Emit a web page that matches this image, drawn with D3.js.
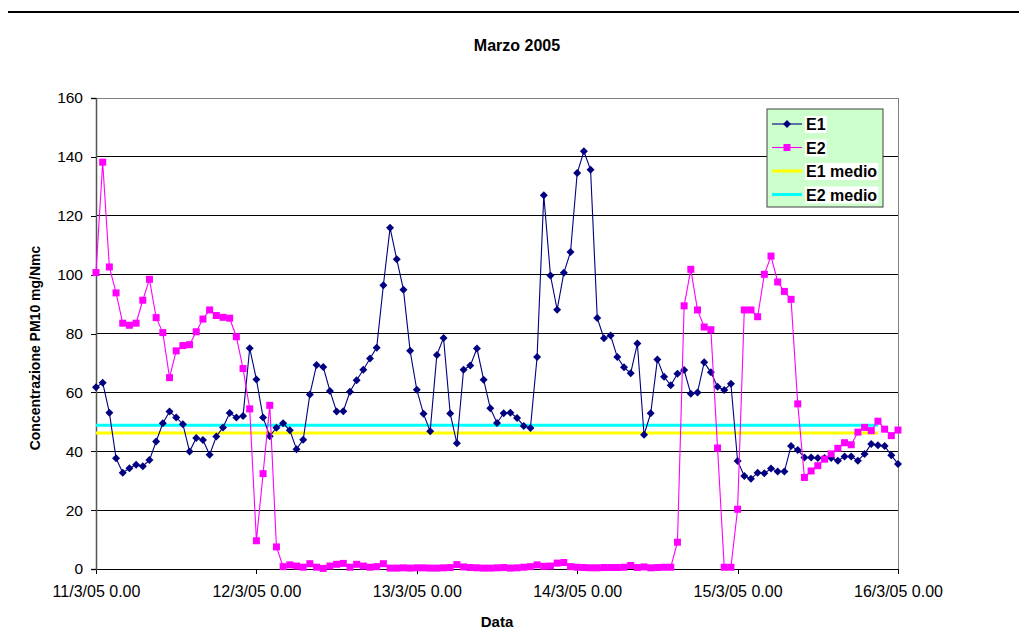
<!DOCTYPE html>
<html>
<head>
<meta charset="utf-8">
<script src="https://cdn.jsdelivr.net/npm/d3@7"></script>
<style>
  body { margin: 0; background: #fff; }
  text { font-family: "Liberation Sans", Arial, sans-serif; }
</style>
</head>
<body>
<div class="chart"></div>
<script>
// hourly values, 11/3/05 0.00 -> 16/3/05 0.00
const e1 = [61.7, 63.3, 53.1, 37.6, 32.7, 34.2, 35.4, 34.9, 37.0, 43.3, 49.5, 53.5,
    51.5, 49.2, 39.9, 44.5, 43.8, 38.8, 45.0, 48.1, 53.0, 51.5, 52.0, 75.0,
    64.4, 51.5, 45.1, 48.0, 49.5, 47.1, 40.7, 43.9, 59.3, 69.3, 68.6, 60.5,
    53.5, 53.6, 60.2, 64.1, 67.7, 71.5, 75.2, 96.4, 115.9, 105.2, 94.9, 74.1,
    60.9, 52.7, 46.8, 72.7, 78.5, 52.8, 42.7, 67.7, 69.1, 74.9, 64.3, 54.6,
    49.6, 52.9, 53.1, 51.3, 48.6, 47.9, 72.0, 127.0, 99.7, 88.1, 100.6, 107.7,
    134.5, 141.9, 135.6, 85.3, 78.4, 79.3, 72.0, 68.5, 66.5, 76.6, 45.6, 52.9,
    71.2, 65.3, 62.4, 66.3, 67.6, 59.5, 60.0, 70.2, 66.8, 61.9, 60.8, 62.9,
    36.7, 31.6, 30.7, 32.7, 32.5, 34.1, 33.1, 33.1, 41.8, 40.4, 37.9, 37.9,
    37.7, 37.7, 37.7, 36.8, 38.2, 38.2, 36.8, 39.1, 42.5, 42.0, 41.8, 38.6,
    35.7];

const e2 = [100.7, 138.2, 102.6, 93.8, 83.5, 82.8, 83.5, 91.3, 98.4, 85.4, 80.3, 65.0,
    74.1, 75.9, 76.2, 80.6, 84.9, 88.0, 86.1, 85.5, 85.2, 78.9, 68.1, 54.4,
    9.6, 32.4, 55.6, 7.5, 0.8, 1.4, 1.0, 0.6, 1.8, 0.6, 0.2, 1.0,
    1.6, 1.9, 0.6, 1.6, 1.0, 0.6, 0.8, 1.8, 0.3, 0.3, 0.4, 0.3,
    0.4, 0.4, 0.3, 0.3, 0.4, 0.5, 1.5, 0.7, 0.5, 0.4, 0.3, 0.3,
    0.4, 0.5, 0.3, 0.4, 0.6, 0.8, 1.4, 0.9, 1.0, 2.0, 2.2, 0.8,
    0.6, 0.5, 0.4, 0.4, 0.5, 0.5, 0.5, 0.6, 1.2, 0.5, 0.7, 0.4,
    0.5, 0.6, 0.6, 9.1, 89.4, 101.8, 88.0, 82.2, 81.3, 41.1, 0.6, 0.6,
    20.3, 88.0, 88.0, 85.7, 100.1, 106.3, 97.5, 94.3, 91.6, 56.1, 31.1, 33.3,
    35.1, 37.3, 39.1, 41.0, 42.9, 42.2, 46.5, 48.1, 47.0, 50.2, 47.5, 45.3,
    47.2];

const e1Medio = 46.2;
const e2Medio = 48.8;
const medioHours = [0, 117];

const xTickHours = [0, 24, 48, 72, 96, 120];
const xTickLabels = ["11/3/05 0.00", "12/3/05 0.00", "13/3/05 0.00", "14/3/05 0.00", "15/3/05 0.00", "16/3/05 0.00"];
const yTicks = [0, 20, 40, 60, 80, 100, 120, 140, 160];

const seriesNames = ["E1", "E2", "E1 medio", "E2 medio"];

const w = 1019, h = 643;
const margin = { top: 98, right: 121, bottom: 74, left: 96 };
const chartWidth = w - margin.left - margin.right;
const chartHeight = h - margin.top - margin.bottom;

const svg = d3.select('.chart')
    .append('svg')
    .attr('width', w)
    .attr('height', h);

// page rule at the top
svg.append('line')
    .attr('x1', 8).attr('x2', w)
    .attr('y1', 12).attr('y2', 12)
    .attr('stroke', '#000')
    .attr('stroke-width', 2);

svg.append('text')
    .attr('x', 517).attr('y', 51)
    .attr('text-anchor', 'middle')
    .style('font-size', '16px')
    .style('font-weight', 'bold')
    .text('Marzo 2005');

const g = svg.append('g')
    .attr('transform', 'translate(' + margin.left + ', ' + margin.top + ')');

const xScale = d3.scaleLinear().domain([0, 120]).range([0, chartWidth]);
const yScale = d3.scaleLinear().domain([0, 160]).range([chartHeight, 0]);

// gridlines
g.append('g')
    .selectAll('line')
    .data(yTicks.filter(d => d > 0 && d < 160))
    .enter().append('line')
    .attr('x1', 0).attr('x2', chartWidth)
    .attr('y1', d => yScale(d)).attr('y2', d => yScale(d))
    .attr('stroke', '#000')
    .attr('stroke-width', 1)
    .attr('shape-rendering', 'crispEdges');

// plot border (top + right)
g.append('path')
    .attr('d', `M0,0H${chartWidth}V${chartHeight}`)
    .attr('fill', 'none')
    .attr('stroke', '#808080')
    .attr('stroke-width', 1)
    .attr('shape-rendering', 'crispEdges');

// axes
const xAxis = d3.axisBottom(xScale)
    .tickValues(xTickHours)
    .tickFormat((d, i) => xTickLabels[i])
    .tickSizeOuter(0)
    .tickSize(5)
    .tickPadding(12);

g.append('g')
    .attr('transform', `translate(0, ${chartHeight})`)
    .call(xAxis)
    .call(s => s.selectAll('text').style('font-size', '16px').attr('fill', '#000').style('font-family', '"Liberation Sans", Arial, sans-serif'))
    .call(s => s.selectAll('line, path').attr('stroke', '#000').attr('shape-rendering', 'crispEdges'));

const yAxis = d3.axisLeft(yScale)
    .tickValues(yTicks)
    .tickSizeOuter(0)
    .tickSize(5)
    .tickPadding(8);

g.append('g')
    .call(yAxis)
    .call(s => s.selectAll('text').style('font-size', '15.5px').attr('fill', '#000').style('font-family', '"Liberation Sans", Arial, sans-serif'))
    .call(s => s.selectAll('line').attr('stroke', '#000').attr('shape-rendering', 'crispEdges'))
    .call(s => s.select('path').attr('stroke', '#555').attr('stroke-width', 1.5));

// mean lines
const meanLine = d3.line().x(d => xScale(d[0])).y(d => yScale(d[1]));
g.append('path')
    .datum(medioHours.map(hr => [hr, e1Medio]))
    .attr('d', meanLine)
    .attr('stroke', '#ffff00')
    .attr('stroke-width', 3)
    .attr('fill', 'none');
g.append('path')
    .datum(medioHours.map(hr => [hr, e2Medio]))
    .attr('d', meanLine)
    .attr('stroke', '#00ffff')
    .attr('stroke-width', 3)
    .attr('fill', 'none');

const line = d3.line().x((d, i) => xScale(i)).y(d => yScale(d));

// E1
g.append('path')
    .datum(e1)
    .attr('d', line)
    .attr('stroke', '#000080')
    .attr('stroke-width', 1.1)
    .attr('fill', 'none');

g.selectAll('.dot1')
    .data(e1)
    .enter().append('path')
    .attr('class', 'dot1')
    .attr('d', 'M0,-4L4,0L0,4L-4,0Z')
    .attr('transform', (d, i) => `translate(${xScale(i)}, ${yScale(d)})`)
    .attr('fill', '#000080');

// E2
g.append('path')
    .datum(e2)
    .attr('d', line)
    .attr('stroke', '#ff00ff')
    .attr('stroke-width', 1.1)
    .attr('fill', 'none');

g.selectAll('.dot2')
    .data(e2)
    .enter().append('rect')
    .attr('class', 'dot2')
    .attr('x', (d, i) => xScale(i) - 3.5)
    .attr('y', d => yScale(d) - 3.5)
    .attr('width', 7)
    .attr('height', 7)
    .attr('fill', '#ff00ff');

// axis titles
svg.append('text')
    .attr('transform', 'rotate(-90)')
    .attr('x', -348)
    .attr('y', 40)
    .attr('text-anchor', 'middle')
    .style('font-size', '14px')
    .style('font-weight', 'bold')
    .text('Concentrazione PM10 mg/Nmc');

svg.append('text')
    .attr('x', 497)
    .attr('y', 627)
    .attr('text-anchor', 'middle')
    .style('font-size', '15px')
    .style('font-weight', 'bold')
    .text('Data');

// legend
const legend = svg.append('g')
    .attr('id', 'legend')
    .attr('transform', 'translate(767, 109)');

legend.append('rect')
    .attr('width', 116)
    .attr('height', 98)
    .attr('fill', '#ccffcc')
    .attr('stroke', '#404040')
    .attr('stroke-width', 1);

const legendColors = ['#000080', '#ff00ff', '#ffff00', '#00ffff'];
const item = legend.selectAll('.legend-label')
    .data(seriesNames)
    .enter().append('g')
    .attr('class', 'legend-label')
    .attr('transform', (d, i) => 'translate(0,' + (15 + i * 23.5) + ')');

item.append('line')
    .attr('x1', 5).attr('x2', 35)
    .attr('stroke', (d, i) => legendColors[i])
    .attr('stroke-width', (d, i) => i < 2 ? 1.1 : 3);

item.filter((d, i) => i === 0).append('path')
    .attr('d', 'M20,-4L24,0L20,4L16,0Z')
    .attr('fill', '#000080');
item.filter((d, i) => i === 1).append('rect')
    .attr('x', 16.5).attr('y', -3.5).attr('width', 7).attr('height', 7)
    .attr('fill', '#ff00ff');

item.append('text')
    .attr('x', 39)
    .attr('y', 6)
    .style('font-size', '16px')
    .style('font-weight', 'bold')
    .text(d => d)
    .each(function () {
        const bb = this.getBBox();
        d3.select(this.parentNode).insert('rect', 'text')
            .attr('x', bb.x - 1).attr('y', bb.y)
            .attr('width', bb.width + 2).attr('height', bb.height)
            .attr('fill', '#fff');
    });
</script>
</body>
</html>
